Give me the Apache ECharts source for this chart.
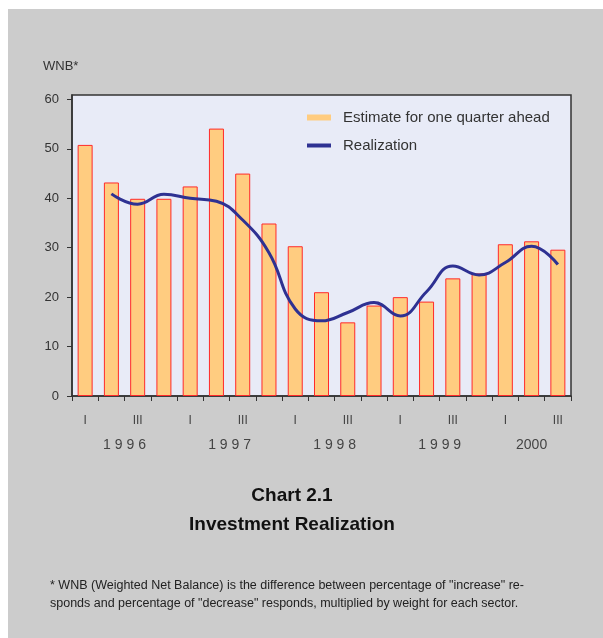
<!DOCTYPE html>
<html>
<head>
<meta charset="utf-8">
<script src="https://cdn.jsdelivr.net/npm/echarts@6/dist/echarts.min.js"></script>
<style>
html,body{margin:0;padding:0;background:#ffffff;}
#c{width:603px;height:638px;}
</style>
</head>
<body>
<div id="c"></div>
<script>
// ---- data ----
var quarters = ['I','II','III','IV','I','II','III','IV','I','II','III','IV','I','II','III','IV','I','II','III'];
var quarterYear = [1996,1996,1996,1996,1997,1997,1997,1997,1998,1998,1998,1998,1999,1999,1999,1999,2000,2000,2000];
var yearNames = [1996,1997,1998,1999,2000];
var yearLabels = ['1 9 9 6','1 9 9 7','1 9 9 8','1 9 9 9','2000'];
var estimate = [50.8,43.2,39.9,39.9,42.4,54.1,45.0,34.9,30.3,21.0,14.9,18.3,20.0,19.1,23.8,24.8,30.7,31.3,29.6];
var realization = [null,40.9,38.8,40.8,40.0,39.4,35.6,29.0,17.6,15.2,16.9,18.9,16.2,21.1,26.3,24.5,27.0,30.3,26.6];
var yTicks = [0,10,20,30,40,50,60];
var seriesNames = ['Estimate for one quarter ahead','Realization'];

// year label positions computed from the quarter list (middle of each year's quarters)
var yearPos = yearNames.map(function(y){
  var first = quarterYear.indexOf(y), last = quarterYear.lastIndexOf(y);
  return (first + last + 1) / 2;
});

var FONT = '"Liberation Sans", Arial, sans-serif';
var chart = echarts.init(document.getElementById('c'), null, {renderer:'canvas'});
chart.setOption({
  animation: false,
  backgroundColor: '#ffffff',
  textStyle: {fontFamily: FONT},
  graphic: [{
    type: 'rect', z: -10, silent: true,
    shape: {x: 8, y: 9, width: 600, height: 640},
    style: {fill: '#cccccc'}
  }],
  title: [
    {text: 'WNB*', left: 38, top: 55, textStyle: {fontSize: 13, fontWeight: 'normal', color: '#333', fontFamily: FONT}},
    {text: 'Chart 2.1\nInvestment Realization', left: 287, top: 476, textAlign: 'center',
     textStyle: {fontSize: 19, fontWeight: 'bold', color: '#111', lineHeight: 29, fontFamily: FONT}},
    {text: '* WNB (Weighted Net Balance) is the difference between percentage of "increase" re-\nsponds and percentage of "decrease" responds, multiplied by weight for each sector.',
     left: 45, top: 572, textStyle: {fontSize: 12.5, fontWeight: 'normal', color: '#222', lineHeight: 18, fontFamily: FONT}}
  ],
  legend: [
    {data: [seriesNames[0]], left: 307, top: 110, padding: 0, icon: 'rect', itemWidth: 24, itemHeight: 6,
     itemStyle: {borderWidth: 0, color: '#ffcc80'},
     textStyle: {fontSize: 15, color: '#333', padding: [0,0,0,7], fontFamily: FONT}},
    {data: [seriesNames[1]], left: 307, top: 138, padding: 0, icon: 'rect', itemWidth: 24, itemHeight: 4,
     itemStyle: {color: '#2e3192'},
     textStyle: {fontSize: 15, color: '#333', padding: [0,0,0,7], fontFamily: FONT}}
  ],
  grid: {left: 72, right: 32, top: 95, bottom: 242, show: true, backgroundColor: '#e8ebf7',
         borderColor: '#333', borderWidth: 1.5},
  xAxis: [
    {type: 'category', data: quarters, boundaryGap: true, position: 'bottom',
     axisLine: {lineStyle: {color: '#333', width: 1.5}},
     axisTick: {show: true, interval: 0, length: 5, lineStyle: {color: '#333'}},
     axisLabel: {interval: 1, margin: 19, fontSize: 12, color: '#444', fontFamily: FONT}},
    {type: 'value', min: 0, max: quarters.length, position: 'bottom', offset: 0,
     axisLine: {show: false}, axisTick: {show: false}, splitLine: {show: false},
     axisLabel: {customValues: yearPos, margin: 42, fontSize: 14, color: '#444', fontFamily: FONT,
       formatter: function(v){ var i = yearPos.indexOf(v); return i >= 0 ? yearLabels[i] : ''; }}}
  ],
  yAxis: {type: 'value', min: 0, max: 60.9,
    axisLine: {show: true, lineStyle: {color: '#333', width: 1.5}},
    axisTick: {show: true, customValues: yTicks, length: 5, lineStyle: {color: '#333'}},
    axisLabel: {customValues: yTicks, margin: 13, fontSize: 13, color: '#333', fontFamily: FONT},
    splitLine: {show: false}},
  series: [
    {name: seriesNames[0], type: 'bar', data: estimate, barWidth: 15, xAxisIndex: 0,
     itemStyle: {color: '#ffcc80', borderColor: '#ff2a2a', borderWidth: 1}},
    {name: seriesNames[1], type: 'line', data: realization, smooth: 0.45, showSymbol: false, symbol: 'none',
     xAxisIndex: 0, lineStyle: {color: '#2e3192', width: 3}, itemStyle: {color: '#2e3192'}}
  ]
});
</script>
</body>
</html>
